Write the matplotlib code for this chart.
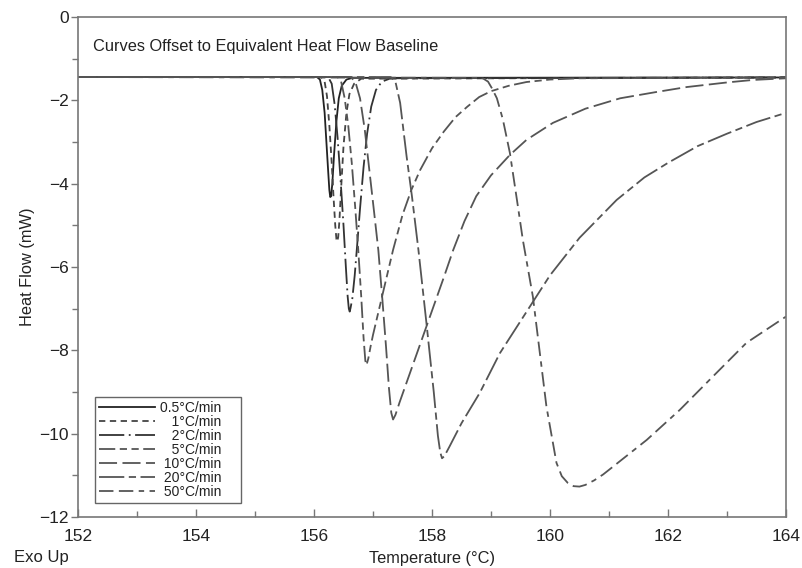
import matplotlib.pyplot as plt
from matplotlib.ticker import MultipleLocator

plt.rcParams['font.family'] = ['Liberation Sans', 'DejaVu Sans']

# heating rate labels (figure/punctuation spaces keep the text right-aligned)
rates = ["0.5°C/min", "\u2007\u20081°C/min", "\u2007\u20082°C/min", "\u2007\u20085°C/min",
         "\u200810°C/min", "\u200820°C/min", "\u200850°C/min"]

# temperature (°C) / heat flow (mW) read per curve
t_05 = [152, 156.05, 156.10, 156.14, 156.18, 156.21, 156.24, 156.26, 156.275, 156.29, 156.31,
        156.34, 156.38, 156.42, 156.47, 156.55, 156.65, 164]
hf_05 = [-1.44, -1.44, -1.5, -1.75, -2.3, -3.0, -3.7, -4.15, -4.32, -4.3, -4.0,
         -3.3, -2.5, -1.95, -1.65, -1.5, -1.46, -1.45]

t_1 = [152, 156.12, 156.18, 156.22, 156.26, 156.30, 156.33, 156.36, 156.38, 156.395, 156.41,
       156.43, 156.46, 156.5, 156.55, 156.6, 156.68, 156.8, 164]
hf_1 = [-1.44, -1.44, -1.55, -1.9, -2.6, -3.5, -4.3, -5.0, -5.33, -5.39, -5.28,
        -4.9, -4.1, -3.1, -2.3, -1.85, -1.6, -1.48, -1.45]

t_2 = [152, 156.24, 156.3, 156.35, 156.40, 156.45, 156.5, 156.54, 156.57, 156.59, 156.605,
       156.62, 156.65, 156.69, 156.73, 156.78, 156.84, 156.9, 156.97, 157.05, 157.15, 157.3, 164]
hf_2 = [-1.44, -1.44, -1.6, -2.1, -2.9, -3.9, -5.0, -6.0, -6.7, -7.0, -7.07,
        -6.98, -6.75, -6.2, -5.5, -4.6, -3.6, -2.8, -2.15, -1.75, -1.55, -1.47, -1.45]

t_5 = [152, 156.40, 156.46, 156.52, 156.58, 156.64, 156.70, 156.75, 156.80, 156.84, 156.87,
       156.89, 156.92, 156.96, 157.0, 157.1, 157.2, 157.34, 157.5, 157.65, 157.8, 158.0,
       158.2, 158.4, 158.6, 158.8, 159.0, 159.3, 159.6, 160.0, 160.5, 164]
hf_5 = [-1.44, -1.44, -1.55, -1.95, -2.6, -3.5, -4.6, -5.59, -6.7, -7.7, -8.25,
        -8.35, -8.2, -7.9, -7.63, -7.03, -6.43, -5.59, -4.75, -4.15, -3.67, -3.15,
        -2.75, -2.4, -2.15, -1.92, -1.78, -1.65, -1.56, -1.5, -1.47, -1.45]

t_10 = [152, 156.62, 156.7, 156.78, 156.86, 156.94, 157.02, 157.09, 157.16, 157.22, 157.27,
        157.31, 157.34, 157.38, 157.45, 157.6, 157.8, 158.0, 158.2, 158.36, 158.55, 158.75,
        159.0, 159.32, 159.6, 160.05, 160.6, 161.19, 161.8, 162.32, 163.0, 163.44, 164]
hf_10 = [-1.44, -1.44, -1.55, -1.95, -2.7, -3.7, -4.7, -5.59, -6.8, -7.9, -8.9,
         -9.5, -9.66, -9.55, -9.25, -8.65, -7.85, -7.05, -6.25, -5.59, -4.9, -4.3,
         -3.8, -3.31, -2.95, -2.54, -2.2, -1.95, -1.8, -1.68, -1.57, -1.51, -1.47]

t_20 = [152, 157.30, 157.38, 157.46, 157.57, 157.66, 157.77, 157.91, 158.03, 158.10, 158.14,
        158.17, 158.21, 158.3, 158.5, 158.81, 159.15, 159.5, 160.0, 160.5, 161.13, 161.6,
        162.0, 162.5, 163.0, 163.5, 164]
hf_20 = [-1.44, -1.44, -1.55, -2.06, -3.35, -4.3, -5.59, -7.4, -9.0, -10.05, -10.45,
         -10.59, -10.54, -10.3, -9.75, -9.02, -8.07, -7.3, -6.2, -5.3, -4.39, -3.85,
         -3.5, -3.1, -2.8, -2.52, -2.3]

t_50 = [152, 158.85, 158.95, 159.02, 159.10, 159.2, 159.32, 159.44, 159.54, 159.71, 159.94,
        160.11, 160.2, 160.3, 160.4, 160.5, 160.6, 160.75, 160.9, 161.07, 161.64, 162.2,
        162.76, 163.33, 164]
hf_50 = [-1.44, -1.46, -1.55, -1.72, -1.95, -2.45, -3.26, -4.39, -5.35, -6.71, -9.35,
         -10.7, -11.02, -11.18, -11.26, -11.27, -11.23, -11.12, -10.98, -10.79, -10.15, -9.43,
         -8.63, -7.82, -7.19]

curves = [(t_05, hf_05), (t_1, hf_1), (t_2, hf_2), (t_5, hf_5),
          (t_10, hf_10), (t_20, hf_20), (t_50, hf_50)]

styles = ['-',
          (0, (3.5, 2.5)),
          (0, (14, 2.5, 1, 2.5)),
          (0, (9, 2.5, 4, 2.5, 4, 2.5)),
          (0, (10, 3)),
          (0, (14, 2.5, 4, 2.5)),
          (0, (8, 3, 8, 3, 3, 3))]
colors = ['#222222', '#444444', '#333333', '#555555', '#555555', '#555555', '#555555']

fig = plt.figure(figsize=(8.02, 5.68), dpi=100)
ax = fig.add_axes([0.0973, 0.0898, 0.8827, 0.8802])

for (t, hf), lab, ls, c in zip(curves, rates, styles, colors):
    ax.plot(t, hf, linestyle=ls, color=c, linewidth=1.3, label=lab + "    ")

ax.set_xlim(152, 164)
ax.set_ylim(-12, 0)
ax.xaxis.set_major_locator(MultipleLocator(2))
ax.xaxis.set_minor_locator(MultipleLocator(1))
ax.yaxis.set_major_locator(MultipleLocator(2))
ax.yaxis.set_minor_locator(MultipleLocator(1))
ax.tick_params(which='both', width=1, colors='#777777', labelsize=12.5, labelcolor='#222222')
ax.tick_params(axis='x', which='both', direction='in', pad=9)
ax.tick_params(axis='y', which='both', direction='out', pad=1.5)
ax.tick_params(axis='x', which='major', length=6)
ax.tick_params(axis='y', which='major', length=5)
ax.tick_params(which='minor', length=4)
for s in ax.spines.values():
    s.set_color('#777777')
    s.set_linewidth(1.2)

ax.set_xlabel("Temperature (°C)", fontsize=11.8, color='#222222', labelpad=5)
ax.set_ylabel("Heat Flow (mW)", fontsize=11.8, color='#222222', labelpad=3)

ax.text(0.021, 0.941, "Curves Offset to Equivalent Heat Flow Baseline",
        transform=ax.transAxes, fontsize=11.8, color='#222222', va='center')
fig.text(0.017, 0.01, "Exo Up", fontsize=12, color='#222222')

leg = ax.legend(loc='lower left', bbox_to_anchor=(0.024, 0.028), borderaxespad=0,
                fontsize=10, handlelength=4, labelspacing=0.0, handletextpad=0.35,
                borderpad=0.3, fancybox=False, framealpha=1)
leg.get_frame().set_edgecolor('#666666')
leg.get_frame().set_linewidth(1)
for txt in leg.get_texts():
    txt.set_color('#222222')

fig.savefig("out.png", dpi=100)
